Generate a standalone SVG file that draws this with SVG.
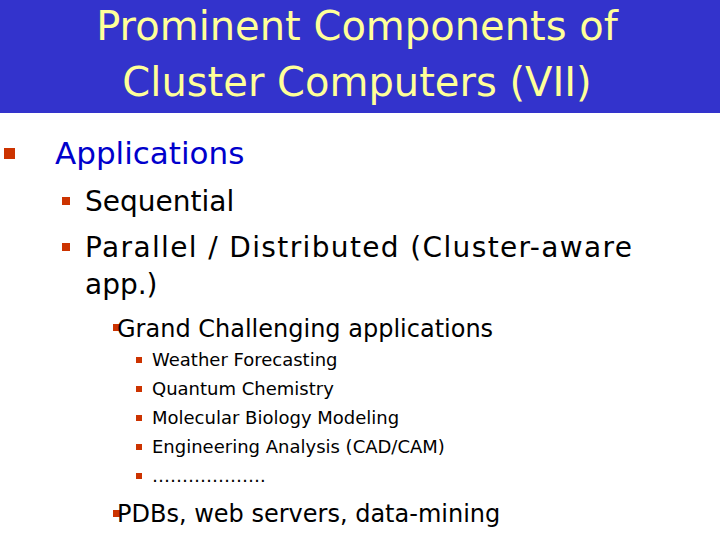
<svg xmlns="http://www.w3.org/2000/svg" width="720" height="540" viewBox="0 0 720 540">
<style>
text{font-family:"DejaVu Sans","Noto Sans",sans-serif}
.t{fill:#FFFF99;font-size:40px;text-anchor:middle}
.b{fill:#CC3300}
.l1{fill:#0000CC;font-size:31px}
.l2{fill:#000;font-size:28px}
.l3{fill:#000;font-size:24px}
.l4{fill:#000;font-size:18px}
</style>
<rect width="720" height="540" fill="#fff"/>
<rect width="720" height="113" fill="#3333CC"/>
<text class="t" x="357" y="40">Prominent Components of</text>
<text class="t" x="357" y="96">Cluster Computers (VII)</text>
<g id="n1"><rect class="b" x="4" y="148" width="11" height="11"/><text class="l1" x="55" y="164">Applications</text></g>
<g id="n2"><rect class="b" x="62" y="197" width="8" height="8"/><text class="l2" x="85" y="211">Sequential</text></g>
<g id="n3"><rect class="b" x="62" y="243" width="8" height="8"/><text class="l2" x="85" y="257" textLength="547">Parallel / Distributed (Cluster-aware</text><text class="l2" x="85" y="294">app.)</text></g>
<g id="n4"><rect class="b" x="113" y="324" width="7" height="7"/><text class="l3" x="117" y="337">Grand Challenging applications</text></g>
<g id="n5"><rect class="b" x="136" y="357" width="6" height="6"/><text class="l4" x="152" y="366">Weather Forecasting</text></g>
<g id="n6"><rect class="b" x="136" y="386" width="6" height="6"/><text class="l4" x="152" y="395">Quantum Chemistry</text></g>
<g id="n7"><rect class="b" x="136" y="415" width="6" height="6"/><text class="l4" x="152" y="424">Molecular Biology Modeling</text></g>
<g id="n8"><rect class="b" x="136" y="444" width="6" height="6"/><text class="l4" x="152" y="453">Engineering Analysis (CAD/CAM)</text></g>
<g id="n9"><rect class="b" x="136" y="473" width="6" height="6"/><text class="l4" x="152" y="482">……………….</text></g>
<g id="n10"><rect class="b" x="113" y="510" width="7" height="7"/><text class="l3" x="117" y="522">PDBs, web servers, data-mining</text></g>
<g id="connectors"/>
</svg>
